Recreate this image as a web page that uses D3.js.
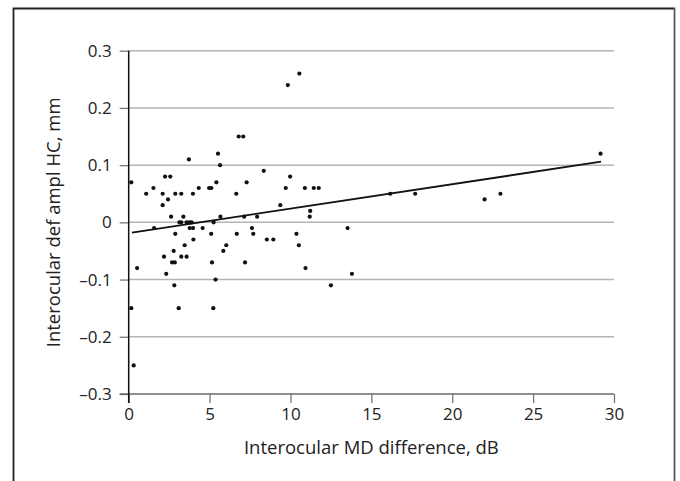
<!DOCTYPE html>
<html lang="en">
<head>
    <meta charset="UTF-8">
    <title>Interocular def ampl HC vs MD difference</title>
    <script src="https://cdnjs.cloudflare.com/ajax/libs/d3/7.8.5/d3.min.js"></script>
    <style>
        body { margin: 0; background: #fff; font-family: "Open Sans", sans-serif; }
        svg text { fill: #222; }
    </style>
</head>
<body>
    <div id="chart"></div>
    <script>
        // Interocular MD difference (dB), interocular def ampl HC (mm)
        const mdDiff = [
            0.16, 0.16, 0.31, 0.52, 1.08, 1.53, 1.57, 2.10, 2.10, 2.18,
            2.25, 2.32, 2.43, 2.57, 2.62, 2.68, 2.78, 2.85, 2.82, 2.88,
            2.88, 3.09, 3.13, 3.25, 3.25, 3.25, 3.38, 3.46, 3.58, 3.58,
            3.72, 3.75, 3.77, 3.89, 3.97, 3.98, 4.00, 4.33, 4.57, 4.97,
            5.11, 5.10, 5.15, 5.23, 5.25, 5.37, 5.42, 5.52, 5.65, 5.67,
            5.85, 6.03, 6.65, 6.68, 6.80, 7.08, 7.14, 7.19, 7.29, 7.62,
            7.70, 7.94, 8.35, 8.54, 8.94, 9.37, 9.71, 9.84, 9.98, 10.37,
            10.52, 10.55, 10.89, 10.93, 11.22, 11.19, 11.44, 11.75, 12.50, 13.53,
            13.80, 16.17, 17.71, 22.00, 22.98, 29.17
        ];
        const defAmpl = [
            0.07, -0.15, -0.25, -0.08, 0.05, 0.06, -0.01, 0.05, 0.03, -0.06,
            0.08, -0.09, 0.04, 0.08, 0.01, -0.07, -0.05, -0.07, -0.11, 0.05,
            -0.02, -0.15, 0, 0.05, 0, -0.06, 0.01, -0.04, 0, -0.06,
            0.11, 0, -0.01, 0, 0.05, -0.01, -0.03, 0.06, -0.01, 0.06,
            0.06, -0.02, -0.07, -0.15, 0, -0.10, 0.07, 0.12, 0.10, 0.01,
            -0.05, -0.04, 0.05, -0.02, 0.15, 0.15, 0.01, -0.07, 0.07, -0.01,
            -0.02, 0.01, 0.09, -0.03, -0.03, 0.03, 0.06, 0.24, 0.08, -0.02,
            -0.04, 0.26, 0.06, -0.08, 0.02, 0.01, 0.06, 0.06, -0.11, -0.01,
            -0.09, 0.05, 0.05, 0.04, 0.05, 0.12
        ];
        // regression line end points (x, y)
        const fitX = [0.2, 29.2];
        const fitY = [-0.018, 0.106];

        const xTicks = [0, 5, 10, 15, 20, 25, 30];
        const yTicks = [-0.3, -0.2, -0.1, 0, 0.1, 0.2, 0.3];
        const yTickLabels = ["\u20130.3", "\u20130.2", "\u20130.1", "0", "0.1", "0.2", "0.3"];

        const W = 680, H = 481;
        const plotLeft = 128.7, plotRight = 614, plotTop = 50.7, plotBottom = 394;

        const svg = d3.select("#chart").append("svg")
            .attr("width", W)
            .attr("height", H);

        // frame (no bottom edge)
        svg.append("path")
            .attr("d", `M13.5,${H} V8.5 H674`)
            .attr("fill", "none")
            .attr("stroke", "#222")
            .attr("stroke-width", 1.8);
        svg.append("path")
            .attr("d", `M674.5,7.6 V${H}`)
            .attr("fill", "none")
            .attr("stroke", "#5a5a5a")
            .attr("stroke-width", 1.8);

        const x = d3.scaleLinear().domain([0, 30]).range([plotLeft, plotRight]);
        const y = d3.scaleLinear().domain([-0.3, 0.3]).range([plotBottom, plotTop]);

        // horizontal grid
        svg.append("g")
            .selectAll("line")
            .data(yTicks.filter(d => d > -0.3))
            .enter().append("line")
            .attr("x1", plotLeft)
            .attr("x2", plotRight)
            .attr("y1", d => y(d))
            .attr("y2", d => y(d))
            .attr("stroke", "#b4b4b4")
            .attr("stroke-width", 1.5);

        // y axis
        const yAxis = svg.append("g")
            .attr("transform", `translate(${plotLeft},0)`)
            .call(d3.axisLeft(y).tickValues(yTicks).tickSize(9).tickPadding(8)
                .tickFormat((d, i) => yTickLabels[i]));
        yAxis.select(".domain").remove();
        yAxis.selectAll(".tick line").attr("stroke", "#777").attr("stroke-width", 1.3);
        yAxis.selectAll("text")
            .style("font-family", "'Open Sans', sans-serif")
            .style("font-size", "17px")
            .attr("fill", "#222");

        // x axis
        const xAxis = svg.append("g")
            .attr("transform", `translate(0,${plotBottom})`)
            .call(d3.axisBottom(x).tickValues(xTicks).tickSize(9).tickPadding(5)
                .tickFormat(d3.format("d")));
        xAxis.select(".domain").remove();
        xAxis.selectAll(".tick line").attr("stroke", "#777").attr("stroke-width", 1.3);
        xAxis.selectAll("text")
            .style("font-family", "'Open Sans', sans-serif")
            .style("font-size", "17px")
            .attr("fill", "#222");

        svg.append("line")
            .attr("x1", plotLeft - 9)
            .attr("x2", plotRight)
            .attr("y1", plotBottom)
            .attr("y2", plotBottom)
            .attr("stroke", "#6a6a6a")
            .attr("stroke-width", 1.5);

        svg.append("line")
            .attr("x1", plotLeft)
            .attr("x2", plotLeft)
            .attr("y1", plotTop)
            .attr("y2", plotBottom + 9)
            .attr("stroke", "#111")
            .attr("stroke-width", 1.5);

        // points
        svg.append("g")
            .selectAll("circle")
            .data(mdDiff.map((d, i) => [d, defAmpl[i]]))
            .enter().append("circle")
            .attr("cx", d => x(d[0]))
            .attr("cy", d => y(d[1]))
            .attr("r", 2.1)
            .attr("fill", "#111");

        // regression line
        svg.append("path")
            .datum(fitX.map((d, i) => [d, fitY[i]]))
            .attr("d", d3.line().x(d => x(d[0])).y(d => y(d[1])))
            .attr("fill", "none")
            .attr("stroke", "#111")
            .attr("stroke-width", 1.8);

        // axis titles
        svg.append("text")
            .attr("x", (plotLeft + plotRight) / 2)
            .attr("y", 454)
            .attr("text-anchor", "middle")
            .style("font-size", "18.5px")
            .text("Interocular MD difference, dB");

        svg.append("text")
            .attr("transform", `translate(60,${(plotTop + plotBottom) / 2}) rotate(-90)`)
            .attr("text-anchor", "middle")
            .style("font-size", "18.5px")
            .text("Interocular def ampl HC, mm");
    </script>
</body>
</html>
